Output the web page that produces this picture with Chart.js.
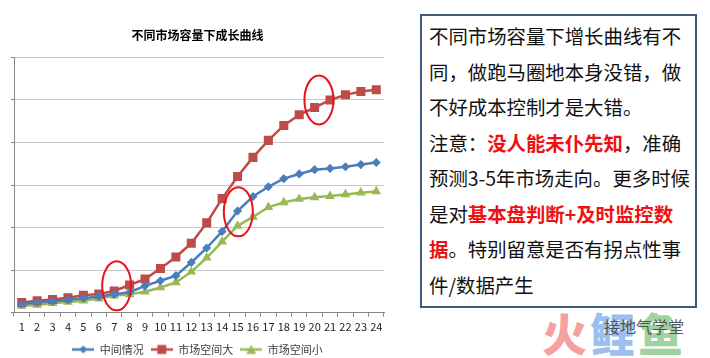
<!DOCTYPE html>
<html>
<head>
<meta charset="utf-8">
<script src="https://cdn.jsdelivr.net/npm/chart.js@4"></script>
<style>
  html, body { margin: 0; padding: 0; background: #ffffff; }
  body { width: 710px; height: 358px; position: relative; overflow: hidden; font-family: "Noto Sans CJK SC", "Noto Sans", sans-serif; }
  #wrap { position: absolute; left: 0; top: 0; width: 400px; height: 365px; }
  #note {
    position: absolute; left: 420px; top: 14px; width: 273px; height: 290px;
    border: 2px solid #41587a; box-sizing: content-box;
    padding: 0; font-size: 19.4px; line-height: 35.5px; color: #111;
  }
  #note .in { position: absolute; left: 7px; top: 2px; white-space: nowrap; }
  #note b { color: #ee1111; font-weight: bold; }
  #wm { position: absolute; left: 540px; top: 308px; width: 170px; height: 50px; }
  #wm .big { position: absolute; top: 0; font-size: 45px; font-weight: 900; line-height: 50px; }
  #wm .t { position: absolute; left: 64px; top: 8px; font-size: 16px; color: #555; line-height: 20px; white-space: nowrap; }
</style>
</head>
<body>
<div id="wrap"><canvas id="c" width="400" height="365"></canvas></div>
<div id="note"><div class="in">不同市场容量下增长曲线有不<br>同，做跑马圈地本身没错，做<br>不好成本控制才是大错。<br>注意：<b>没人能未仆先知</b>，准确<br>预测3-5年市场走向。更多时候<br>是对<b>基本盘判断+及时监控数</b><br><b>据</b>。特别留意是否有拐点性事<br>件/数据产生</div></div>
<div id="wm">
  <span class="big" style="left:2px;color:#f7a0a0;">火</span>
  <span class="big" style="left:50px;color:#9cbff0;">鲤</span>
  <span class="big" style="left:98px;color:#9fd39f;">鱼</span>
  <span class="t">接地气学堂</span>
</div>
<script>
const chartTitle = '不同市场容量下成长曲线';
const categories = ['1','2','3','4','5','6','7','8','9','10','11','12','13','14','15','16','17','18','19','20','21','22','23','24'];
const seriesNames = ['中间情况', '市场空间大', '市场空间小'];
const middleValues = [0.20,0.24,0.27,0.30,0.34,0.38,0.43,0.48,0.63,0.75,0.87,1.18,1.52,1.91,2.39,2.73,2.96,3.15,3.26,3.36,3.39,3.43,3.48,3.53];
const largeValues  = [0.24,0.28,0.31,0.35,0.41,0.44,0.51,0.65,0.79,1.04,1.31,1.63,2.11,2.68,3.20,3.65,4.05,4.40,4.65,4.82,5.00,5.12,5.20,5.24];
const smallValues  = [0.16,0.18,0.22,0.25,0.28,0.33,0.40,0.43,0.49,0.59,0.71,0.96,1.29,1.67,2.04,2.25,2.48,2.59,2.67,2.71,2.74,2.78,2.82,2.85];
const yMin = 0, yMax = 6, yStep = 1;
// highlight ellipses: centre as (category index, value)
const ellipseIdx = [6.16, 14.05, 19.28];
const ellipseVal = [0.63, 2.37, 5.00];

const colors = ['#4a7ebb', '#be4b48', '#98b954'];
const styles = ['rectRot', 'rect', 'triangle'];
const radii = [4.6, 6.4, 5.6];

function legendImg(i) {
  const cv = document.createElement('canvas');
  cv.width = 22; cv.height = 12;
  const g = cv.getContext('2d');
  g.strokeStyle = colors[i]; g.lineWidth = 2.5;
  g.beginPath(); g.moveTo(0, 6); g.lineTo(22, 6); g.stroke();
  g.fillStyle = colors[i];
  g.beginPath();
  if (i === 0) { g.moveTo(11, 2); g.lineTo(15, 6); g.lineTo(11, 10); g.lineTo(7, 6); }
  else if (i === 1) { g.rect(6.5, 1.5, 9, 9); }
  else { g.moveTo(11, 1.5); g.lineTo(16, 10.5); g.lineTo(6, 10.5); }
  g.closePath(); g.fill();
  return cv;
}

const ellipsePlugin = {
  id: 'ellipses',
  afterDatasetsDraw(chart) {
    const { ctx, scales } = chart;
    ctx.save();
    ctx.strokeStyle = '#e8141b';
    ctx.lineWidth = 2;
    for (let k = 0; k < ellipseIdx.length; k++) {
      const cx = scales.x.getPixelForValue(ellipseIdx[k]);
      const cy = scales.y.getPixelForValue(ellipseVal[k]);
      ctx.beginPath();
      ctx.ellipse(cx, cy, 14.5, 24.5, 0, 0, Math.PI * 2);
      ctx.stroke();
    }
    ctx.restore();
  }
};

const data = [middleValues, largeValues, smallValues];
const datasets = data.map((vals, i) => ({
  label: seriesNames[i],
  data: vals,
  borderColor: colors[i],
  backgroundColor: colors[i],
  borderWidth: 2.5,
  pointStyle: styles[i],
  pointRadius: radii[i],
  pointHoverRadius: radii[i],
  pointBorderWidth: 0,
  pointBackgroundColor: colors[i],
  tension: 0,
  fill: false
}));

Chart.defaults.font.family = '"Noto Sans CJK SC", "Noto Sans", sans-serif';

new Chart(document.getElementById('c'), {
  type: 'line',
  data: { labels: categories, datasets },
  plugins: [ellipsePlugin],
  options: {
    responsive: false,
    animation: false,
    devicePixelRatio: 1,
    layout: { padding: { left: 11, right: 16, top: 0, bottom: 0 } },
    plugins: {
      title: {
        display: true, text: chartTitle, color: '#000',
        font: { size: 12, weight: 'bold' },
        padding: { top: 28, bottom: 15 }
      },
      legend: {
        position: 'bottom',
        labels: {
          usePointStyle: true,
          pointStyleWidth: 22,
          color: '#404040',
          font: { size: 11 },
          padding: 7,
          generateLabels(chart) {
            return chart.data.datasets.map((ds, i) => ({
              text: ds.label, pointStyle: legendImg(i), fillStyle: colors[i],
              strokeStyle: colors[i], lineWidth: 0, hidden: false, datasetIndex: i, fontColor: '#404040'
            }));
          }
        }
      },
      tooltip: { enabled: false }
    },
    scales: {
      x: {
        offset: true,
        grid: { offset: true, drawOnChartArea: false, drawTicks: true, tickLength: 4, tickColor: '#868686', color: '#868686' },
        border: { display: true, color: '#868686', width: 1 },
        ticks: { color: '#222', font: { size: 11, lineHeight: 1.85 }, padding: 0, maxRotation: 0, autoSkip: false }
      },
      y: {
        min: yMin, max: yMax,
        ticks: { display: false, stepSize: yStep },
        grid: {
          color: (c) => c.tick && c.tick.value === 0 ? 'rgba(0,0,0,0)' : '#c8c8c8',
          borderDash: [4, 3], tickBorderDash: [], tickLength: 3, tickColor: '#868686', drawTicks: true
        },
        border: { display: true, color: '#868686', width: 1 }
      }
    }
  }
});
</script>
</body>
</html>
